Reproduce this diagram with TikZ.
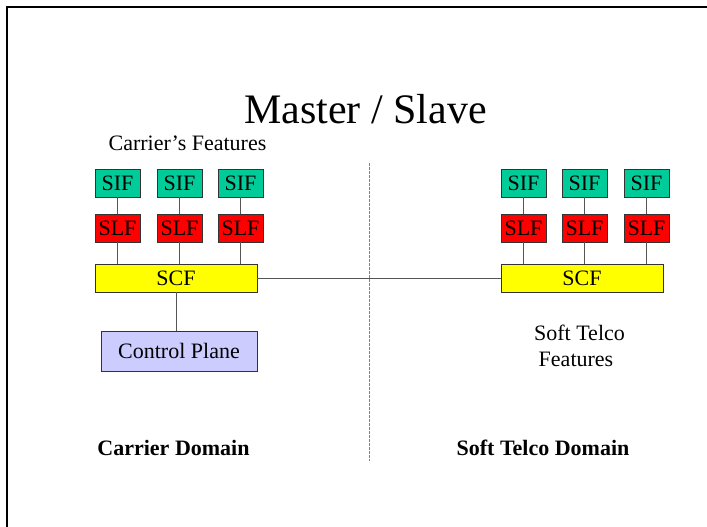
\documentclass[tikz,border=0pt]{standalone}
\usepackage{fontspec}
\setmainfont{Liberation Serif}
\definecolor{sifgreen}{HTML}{00CC99}
\definecolor{slfred}{HTML}{FF0000}
\definecolor{scfyellow}{HTML}{FFFF00}
\definecolor{cplav}{HTML}{CCCCFF}
\definecolor{linegray}{HTML}{555555}
\begin{document}
\begin{tikzpicture}[x=1pt,y=-1pt,
  box/.style={draw=black!80, line width=0.7pt, rectangle, inner sep=0pt, font=\fontsize{22}{24}\selectfont},
  sifbox/.style={box, fill=sifgreen, minimum width=45pt, minimum height=28pt},
  slfbox/.style={box, fill=slfred, minimum width=45pt, minimum height=28pt},
  scfbox/.style={box, fill=scfyellow, minimum width=162pt, minimum height=28pt},
  cpbox/.style={box, fill=cplav, minimum width=156pt, minimum height=40pt},
  conn/.style={draw=linegray, line width=0.9pt},
  txt/.style={inner sep=0pt, anchor=base, font=\fontsize{22}{26}\selectfont},
  btxt/.style={txt, font=\fontsize{22}{26}\selectfont\bfseries}
]
\useasboundingbox (0,0) rectangle (707,527);
% frame (top and left edges visible)
\coordinate (fTL) at (7,7);
\coordinate (fTR) at (707,7);
\coordinate (fBL) at (7,527);
\draw[line width=1.8pt] (fTR) -- (fTL) -- (fBL);

% title and labels
\node[txt, font=\fontsize{42}{44}\selectfont] (title) at (365.5,123) {Master / Slave};
\node[txt] (cfeat) at (187.5,150) {Carrier’s Features};
\node[txt] (stf1) at (579.5,340) {Soft Telco};
\node[txt] (stf2) at (576,366) {Features};
\node[btxt] (cdom) at (173.5,455) {Carrier Domain};
\node[btxt] (sdom) at (543,455) {Soft Telco Domain};

% divider
\coordinate (dT) at (369.5,163);
\coordinate (dB) at (369.5,461);
\draw[draw=gray, line width=0.9pt, dash pattern=on 2.5pt off 1.5pt] (dT) -- (dB);

% left side
\node[sifbox] (sifL1) at (117.5,183) {SIF};
\node[sifbox] (sifL2) at (179.5,183) {SIF};
\node[sifbox] (sifL3) at (240.5,183) {SIF};
\node[slfbox] (slfL1) at (117.5,228) {SLF};
\node[slfbox] (slfL2) at (179.5,228) {SLF};
\node[slfbox] (slfL3) at (240.5,228) {SLF};
\node[scfbox] (scfL) at (176,278) {SCF};
\node[cpbox] (cp) at (179,351) {Control Plane};

% right side
\node[sifbox] (sifR1) at (523.5,183) {SIF};
\node[sifbox] (sifR2) at (584.5,183) {SIF};
\node[sifbox] (sifR3) at (646.5,183) {SIF};
\node[slfbox] (slfR1) at (523.5,228) {SLF};
\node[slfbox] (slfR2) at (584.5,228) {SLF};
\node[slfbox] (slfR3) at (646.5,228) {SLF};
\node[scfbox] (scfR) at (582,278) {SCF};

% connectors
\foreach \sd in {L,R}{
  \foreach \i in {1,2,3}{
    \draw[conn] (sif\sd\i.south) -- (slf\sd\i.north);
    \draw[conn] (slf\sd\i.south) -- (slf\sd\i.south |- scf\sd.north);
  }
}
\draw[conn] (scfL.south) -- (scfL.south |- cp.north);
\draw[conn] (scfL.east) -- (scfR.west);
\end{tikzpicture}
\end{document}
